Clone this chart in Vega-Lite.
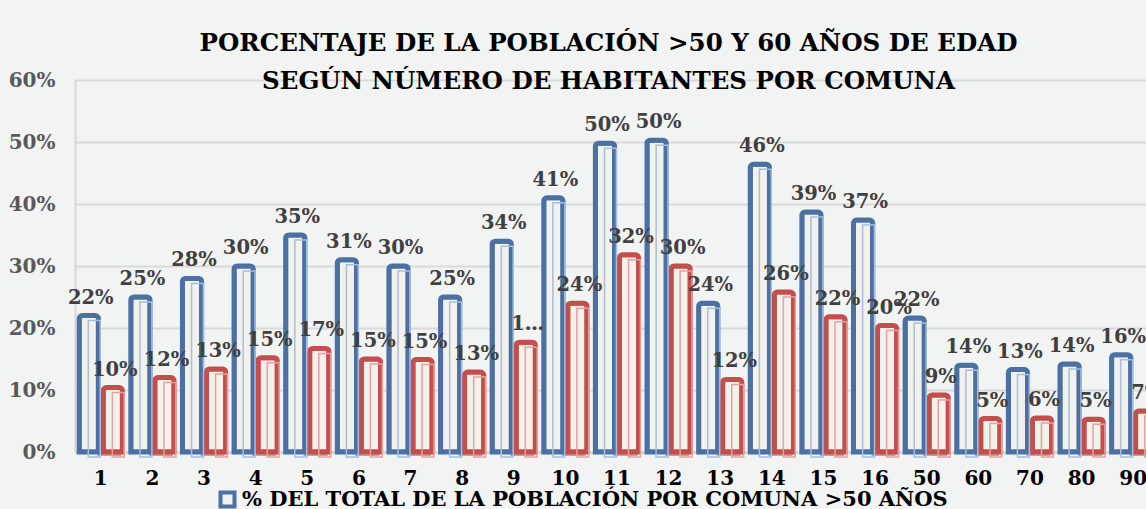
{
  "$schema": "https://vega.github.io/schema/vega-lite/v6.json",
  "width": 1071,
  "height": 372,
  "autosize": {"type": "none"},
  "padding": {"left": 75, "top": 80, "right": 0, "bottom": 57},
  "background": "#f2f3f3",
  "config": {"view": {"stroke": null}, "font": "DejaVu Serif"},
  "title": {
    "text": ["PORCENTAJE DE LA POBLACIÓN >50 Y 60 AÑOS DE EDAD", "SEGÚN NÚMERO DE HABITANTES POR COMUNA"],
    "fontSize": 24.5,
    "fontWeight": "bold",
    "color": "#000000",
    "lineHeight": 38,
    "anchor": "middle",
    "baseline": "alphabetic",
    "offset": 0,
    "dy": 43,
    "dx": -2
  },
  "data": {
    "values": [
      {"comuna": "1", "serie": "% DEL TOTAL DE LA POBLACIÓN POR COMUNA >50 AÑOS", "valor": 0.22, "etiqueta": "22%"},
      {"comuna": "2", "serie": "% DEL TOTAL DE LA POBLACIÓN POR COMUNA >50 AÑOS", "valor": 0.25, "etiqueta": "25%"},
      {"comuna": "3", "serie": "% DEL TOTAL DE LA POBLACIÓN POR COMUNA >50 AÑOS", "valor": 0.28, "etiqueta": "28%"},
      {"comuna": "4", "serie": "% DEL TOTAL DE LA POBLACIÓN POR COMUNA >50 AÑOS", "valor": 0.30, "etiqueta": "30%"},
      {"comuna": "5", "serie": "% DEL TOTAL DE LA POBLACIÓN POR COMUNA >50 AÑOS", "valor": 0.35, "etiqueta": "35%"},
      {"comuna": "6", "serie": "% DEL TOTAL DE LA POBLACIÓN POR COMUNA >50 AÑOS", "valor": 0.31, "etiqueta": "31%"},
      {"comuna": "7", "serie": "% DEL TOTAL DE LA POBLACIÓN POR COMUNA >50 AÑOS", "valor": 0.30, "etiqueta": "30%"},
      {"comuna": "8", "serie": "% DEL TOTAL DE LA POBLACIÓN POR COMUNA >50 AÑOS", "valor": 0.25, "etiqueta": "25%"},
      {"comuna": "9", "serie": "% DEL TOTAL DE LA POBLACIÓN POR COMUNA >50 AÑOS", "valor": 0.34, "etiqueta": "34%"},
      {"comuna": "10", "serie": "% DEL TOTAL DE LA POBLACIÓN POR COMUNA >50 AÑOS", "valor": 0.41, "etiqueta": "41%"},
      {"comuna": "11", "serie": "% DEL TOTAL DE LA POBLACIÓN POR COMUNA >50 AÑOS", "valor": 0.498, "etiqueta": "50%"},
      {"comuna": "12", "serie": "% DEL TOTAL DE LA POBLACIÓN POR COMUNA >50 AÑOS", "valor": 0.503, "etiqueta": "50%"},
      {"comuna": "13", "serie": "% DEL TOTAL DE LA POBLACIÓN POR COMUNA >50 AÑOS", "valor": 0.24, "etiqueta": "24%"},
      {"comuna": "14", "serie": "% DEL TOTAL DE LA POBLACIÓN POR COMUNA >50 AÑOS", "valor": 0.464, "etiqueta": "46%"},
      {"comuna": "15", "serie": "% DEL TOTAL DE LA POBLACIÓN POR COMUNA >50 AÑOS", "valor": 0.387, "etiqueta": "39%"},
      {"comuna": "16", "serie": "% DEL TOTAL DE LA POBLACIÓN POR COMUNA >50 AÑOS", "valor": 0.374, "etiqueta": "37%"},
      {"comuna": "50", "serie": "% DEL TOTAL DE LA POBLACIÓN POR COMUNA >50 AÑOS", "valor": 0.216, "etiqueta": "22%"},
      {"comuna": "60", "serie": "% DEL TOTAL DE LA POBLACIÓN POR COMUNA >50 AÑOS", "valor": 0.14, "etiqueta": "14%"},
      {"comuna": "70", "serie": "% DEL TOTAL DE LA POBLACIÓN POR COMUNA >50 AÑOS", "valor": 0.133, "etiqueta": "13%"},
      {"comuna": "80", "serie": "% DEL TOTAL DE LA POBLACIÓN POR COMUNA >50 AÑOS", "valor": 0.142, "etiqueta": "14%"},
      {"comuna": "90", "serie": "% DEL TOTAL DE LA POBLACIÓN POR COMUNA >50 AÑOS", "valor": 0.157, "etiqueta": "16%"},
      {"comuna": "1", "serie": "% DEL TOTAL DE LA POBLACIÓN POR COMUNA >60 AÑOS", "valor": 0.104, "etiqueta": "10%"},
      {"comuna": "2", "serie": "% DEL TOTAL DE LA POBLACIÓN POR COMUNA >60 AÑOS", "valor": 0.12, "etiqueta": "12%"},
      {"comuna": "3", "serie": "% DEL TOTAL DE LA POBLACIÓN POR COMUNA >60 AÑOS", "valor": 0.134, "etiqueta": "13%"},
      {"comuna": "4", "serie": "% DEL TOTAL DE LA POBLACIÓN POR COMUNA >60 AÑOS", "valor": 0.152, "etiqueta": "15%"},
      {"comuna": "5", "serie": "% DEL TOTAL DE LA POBLACIÓN POR COMUNA >60 AÑOS", "valor": 0.167, "etiqueta": "17%"},
      {"comuna": "6", "serie": "% DEL TOTAL DE LA POBLACIÓN POR COMUNA >60 AÑOS", "valor": 0.15, "etiqueta": "15%"},
      {"comuna": "7", "serie": "% DEL TOTAL DE LA POBLACIÓN POR COMUNA >60 AÑOS", "valor": 0.149, "etiqueta": "15%"},
      {"comuna": "8", "serie": "% DEL TOTAL DE LA POBLACIÓN POR COMUNA >60 AÑOS", "valor": 0.129, "etiqueta": "13%"},
      {"comuna": "9", "serie": "% DEL TOTAL DE LA POBLACIÓN POR COMUNA >60 AÑOS", "valor": 0.177, "etiqueta": "1…"},
      {"comuna": "10", "serie": "% DEL TOTAL DE LA POBLACIÓN POR COMUNA >60 AÑOS", "valor": 0.24, "etiqueta": "24%"},
      {"comuna": "11", "serie": "% DEL TOTAL DE LA POBLACIÓN POR COMUNA >60 AÑOS", "valor": 0.318, "etiqueta": "32%"},
      {"comuna": "12", "serie": "% DEL TOTAL DE LA POBLACIÓN POR COMUNA >60 AÑOS", "valor": 0.30, "etiqueta": "30%"},
      {"comuna": "13", "serie": "% DEL TOTAL DE LA POBLACIÓN POR COMUNA >60 AÑOS", "valor": 0.117, "etiqueta": "12%"},
      {"comuna": "14", "serie": "% DEL TOTAL DE LA POBLACIÓN POR COMUNA >60 AÑOS", "valor": 0.258, "etiqueta": "26%"},
      {"comuna": "15", "serie": "% DEL TOTAL DE LA POBLACIÓN POR COMUNA >60 AÑOS", "valor": 0.218, "etiqueta": "22%"},
      {"comuna": "16", "serie": "% DEL TOTAL DE LA POBLACIÓN POR COMUNA >60 AÑOS", "valor": 0.204, "etiqueta": "20%"},
      {"comuna": "50", "serie": "% DEL TOTAL DE LA POBLACIÓN POR COMUNA >60 AÑOS", "valor": 0.092, "etiqueta": "9%"},
      {"comuna": "60", "serie": "% DEL TOTAL DE LA POBLACIÓN POR COMUNA >60 AÑOS", "valor": 0.054, "etiqueta": "5%"},
      {"comuna": "70", "serie": "% DEL TOTAL DE LA POBLACIÓN POR COMUNA >60 AÑOS", "valor": 0.055, "etiqueta": "6%"},
      {"comuna": "80", "serie": "% DEL TOTAL DE LA POBLACIÓN POR COMUNA >60 AÑOS", "valor": 0.053, "etiqueta": "5%"},
      {"comuna": "90", "serie": "% DEL TOTAL DE LA POBLACIÓN POR COMUNA >60 AÑOS", "valor": 0.066, "etiqueta": "7%"}
    ]
  },
  "encoding": {
    "x": {
      "field": "comuna",
      "type": "nominal",
      "sort": null,
      "scale": {"range": [0, 1084], "paddingInner": 0.07, "paddingOuter": 0.035},
      "axis": {
        "title": null,
        "labelAngle": 0,
        "ticks": false,
        "labelPadding": 16,
        "labelFontSize": 20,
        "labelFontWeight": "bold",
        "labelColor": "#000000",
        "domainColor": "#cfcfcf",
        "domainWidth": 2,
        "grid": false
      }
    },
    "xOffset": {
      "field": "serie",
      "type": "nominal",
      "scale": {
        "domain": ["% DEL TOTAL DE LA POBLACIÓN POR COMUNA >50 AÑOS", "% DEL TOTAL DE LA POBLACIÓN POR COMUNA >60 AÑOS"],
        "paddingInner": 0.2,
        "paddingOuter": 0.1
      }
    },
    "y": {
      "field": "valor",
      "type": "quantitative",
      "scale": {"domain": [0, 0.6]},
      "axis": {
        "title": null,
        "values": [0, 0.1, 0.2, 0.3, 0.4, 0.5, 0.6],
        "format": ".0%",
        "ticks": false,
        "labelPadding": 20,
        "labelFontSize": 20,
        "labelFontWeight": "bold",
        "labelColor": "#595959",
        "gridColor": "#dadada",
        "gridWidth": 2,
        "domainColor": "#d6d6d6",
        "domainWidth": 2
      }
    }
  },
  "layer": [
    {
      "transform": [{"filter": "indexof(datum.serie, '>60') >= 0"}],
      "mark": {"type": "bar", "fill": "#666666", "opacity": 0.5, "xOffset": 6, "yOffset": 4, "y2Offset": 0, "width": {"band": 1.25}}
    },
    {
      "mark": {"type": "bar", "fill": "#f3f1ec", "strokeWidth": 5, "cornerRadiusTopLeft": 3, "cornerRadiusTopRight": 3},
      "encoding": {
        "stroke": {
          "field": "serie",
          "type": "nominal",
          "scale": {
            "domain": ["% DEL TOTAL DE LA POBLACIÓN POR COMUNA >50 AÑOS", "% DEL TOTAL DE LA POBLACIÓN POR COMUNA >60 AÑOS"],
            "range": ["#4b70a3", "#c44e4b"]
          },
          "legend": {
            "values": ["% DEL TOTAL DE LA POBLACIÓN POR COMUNA >50 AÑOS"],
            "orient": "none",
            "legendX": 142,
            "legendY": 409,
            "direction": "horizontal",
            "title": null,
            "padding": 0,
            "labelFontSize": 21,
            "labelFontWeight": "bold",
            "labelColor": "#000000",
            "labelLimit": 1000,
            "labelOffset": 4,
            "symbolType": "square",
            "symbolSize": 196,
            "symbolStrokeWidth": 4,
            "symbolFillColor": "#f2f0ea"
          }
        }
      }
    },
    {
      "mark": {"type": "bar", "fillOpacity": 0, "strokeWidth": 1.5, "width": {"band": 0.62}, "yOffset": 5, "y2Offset": -1},
      "encoding": {
        "stroke": {
          "condition": {"test": "indexof(datum.serie, '>50') >= 0", "value": "#a7bedd"},
          "value": "#e6a09e"
        }
      }
    },
    {
      "mark": {"type": "text", "baseline": "alphabetic", "dy": -12, "dx": 2, "fontSize": 19.5, "fontWeight": "bold", "color": "#404040"},
      "encoding": {"text": {"field": "etiqueta"}}
    }
  ]
}
